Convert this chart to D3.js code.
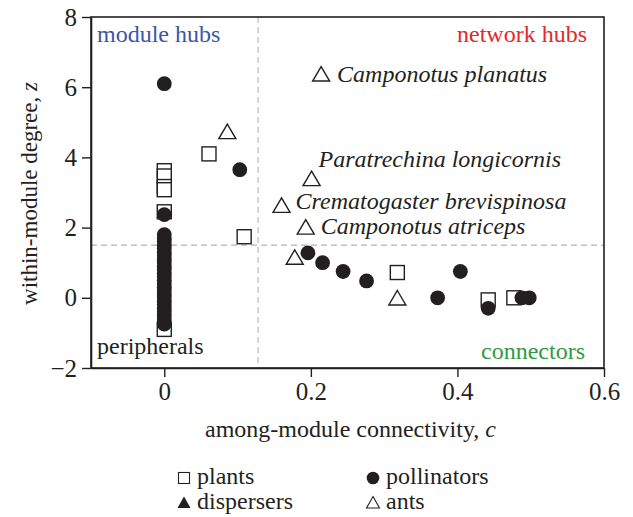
<!DOCTYPE html>
<html>
<head>
<meta charset="utf-8">
<script src="https://cdn.jsdelivr.net/npm/d3@7/dist/d3.min.js"></script>
<style>
  html, body { margin: 0; padding: 0; background: #fff; }
  svg { display: block; }
  text { font-family: "Liberation Serif", "Times New Roman", serif; }
</style>
</head>
<body>
<svg id="chart" width="633" height="517"></svg>
<script>
// ---- data (c = among-module connectivity, z = within-module degree) ----
const plants = [
  {c: 0, z: 3.62}, {c: 0, z: 3.47}, {c: 0, z: 3.17}, {c: 0, z: 3.08},
  {c: 0, z: 2.45}, {c: 0, z: -0.9},
  {c: 0.061, z: 4.1}, {c: 0.109, z: 1.74},
  {c: 0.318, z: 0.72}, {c: 0.442, z: -0.06}, {c: 0.477, z: 0.0}
];
const pollinatorsC0 = [6.1, 2.37, 1.8, 1.7, 1.6, 1.5, 1.4, 1.3, 1.2, 1.1, 1.0, 0.9, 0.8, 0.7, 0.6,
  0.5, 0.4, 0.3, 0.2, 0.1, 0.0, -0.1, -0.2, -0.3, -0.4, -0.5, -0.6, -0.7, -0.75];
const pollinators = pollinatorsC0.map(z => ({c: 0, z: z})).concat([
  {c: 0.103, z: 3.65}, {c: 0.196, z: 1.28}, {c: 0.216, z: 1.0},
  {c: 0.244, z: 0.75}, {c: 0.276, z: 0.48}, {c: 0.373, z: 0.0},
  {c: 0.404, z: 0.75}, {c: 0.442, z: -0.3}, {c: 0.488, z: 0.0}, {c: 0.498, z: 0.0}
]);
const dispersers = [];
const ants = [
  {c: 0.086, z: 4.72}, {c: 0.214, z: 6.36}, {c: 0.201, z: 3.38},
  {c: 0.16, z: 2.62}, {c: 0.193, z: 2.0}, {c: 0.178, z: 1.14}, {c: 0.318, z: -0.02}
];
const speciesLabels = [
  {name: "Camponotus planatus", ant: 1},
  {name: "Paratrechina longicornis", ant: 2},
  {name: "Crematogaster brevispinosa", ant: 3},
  {name: "Camponotus atriceps", ant: 4}
];
const roleLabels = ["module hubs", "network hubs", "peripherals", "connectors"];
const cThreshold = 0.128, zThreshold = 1.5;
const xTicks = [0, 0.2, 0.4, 0.6];
const yTicks = [-2, 0, 2, 4, 6, 8];
const legendItems = ["plants", "pollinators", "dispersers", "ants"];

// ---- layout ----
const svg = d3.select("#chart");
const L = 91, R = 604, T = 17, B = 368;
const x = d3.scaleLinear().domain([-0.1, 0.6]).range([L, R]);
const y = d3.scaleLinear().domain([-2, 8]).range([B, T]);
const ink = "#231f20";

// threshold lines
svg.append("line").attr("x1", x(cThreshold)).attr("x2", x(cThreshold))
  .attr("y1", T).attr("y2", B)
  .attr("stroke", "#b3b3b3").attr("stroke-width", 1.1).attr("stroke-dasharray", "6,4");
svg.append("line").attr("x1", L).attr("x2", R)
  .attr("y1", y(zThreshold)).attr("y2", y(zThreshold))
  .attr("stroke", "#b3b3b3").attr("stroke-width", 1.1).attr("stroke-dasharray", "6,4");

// frame
svg.append("rect").attr("x", L).attr("y", T).attr("width", R - L).attr("height", B - T)
  .attr("fill", "none").attr("stroke", ink).attr("stroke-width", 1.6);

// axes
const xAxis = svg.append("g").attr("transform", `translate(0,${B})`)
  .call(d3.axisBottom(x).tickValues(xTicks).tickSize(9).tickSizeOuter(0).tickPadding(5)
    .tickFormat(d => d === 0 ? "0" : d3.format(".1f")(d)));
const yAxis = svg.append("g").attr("transform", `translate(${L},0)`)
  .call(d3.axisLeft(y).tickValues(yTicks).tickSize(9).tickSizeOuter(0).tickPadding(5));
[xAxis, yAxis].forEach(g => {
  g.select(".domain").attr("stroke", ink).attr("stroke-width", 1.6);
  g.selectAll(".tick line").attr("stroke", ink).attr("stroke-width", 1.4);
  g.selectAll(".tick text").attr("fill", ink).attr("font-size", 25)
    .attr("font-family", "Liberation Serif, serif");
});

// axis titles
const xt = svg.append("text").attr("x", (L + R) / 2 + 3).attr("y", 437)
  .attr("text-anchor", "middle").attr("font-size", 24).attr("fill", ink);
xt.append("tspan").text("among-module connectivity, ");
xt.append("tspan").attr("font-style", "italic").text("c");
const yt = svg.append("text").attr("transform", `translate(37,${(T + B) / 2 + 1}) rotate(-90)`)
  .attr("text-anchor", "middle").attr("font-size", 23).attr("fill", ink);
yt.append("tspan").text("within-module degree, ");
yt.append("tspan").attr("font-style", "italic").text("z");

// markers
const sq = 14, rc = 7.4;
svg.append("g").selectAll("rect").data(plants).join("rect")
  .attr("x", d => x(d.c) - sq / 2).attr("y", d => y(d.z) - sq / 2)
  .attr("width", sq).attr("height", sq)
  .attr("fill", "#fff").attr("stroke", ink).attr("stroke-width", 1.4);
svg.append("g").selectAll("circle").data(pollinators).join("circle")
  .attr("cx", d => x(d.c)).attr("cy", d => y(d.z)).attr("r", rc)
  .attr("fill", ink);
const tri = "M0,-8L8.5,6.5L-8.5,6.5Z";
svg.append("g").selectAll("path.disp").data(dispersers).join("path")
  .attr("class", "disp").attr("d", tri)
  .attr("transform", d => `translate(${x(d.c)},${y(d.z)})`).attr("fill", ink);
svg.append("g").selectAll("path.ant").data(ants).join("path")
  .attr("class", "ant").attr("d", tri)
  .attr("transform", d => `translate(${x(d.c)},${y(d.z)})`)
  .attr("fill", "#fff").attr("stroke", ink).attr("stroke-width", 1.4);

// species labels
const labelOffsets = [[16, 7], [7, -12], [14, 3], [15, 6]];
svg.append("g").selectAll("text").data(speciesLabels).join("text")
  .attr("x", (d, i) => x(ants[d.ant].c) + labelOffsets[i][0])
  .attr("y", (d, i) => y(ants[d.ant].z) + labelOffsets[i][1])
  .attr("font-size", 24).attr("font-style", "italic").attr("fill", ink)
  .text(d => d.name);

// role labels
svg.append("text").attr("x", L + 6).attr("y", T + 25).attr("font-size", 24)
  .attr("fill", "#3a56a8").text(roleLabels[0]);
svg.append("text").attr("x", R - 17).attr("y", T + 25).attr("font-size", 24)
  .attr("text-anchor", "end").attr("fill", "#e8262d").text(roleLabels[1]);
svg.append("text").attr("x", L + 6).attr("y", B - 14).attr("font-size", 24)
  .attr("fill", ink).text(roleLabels[2]);
svg.append("text").attr("x", R - 19).attr("y", B - 9).attr("font-size", 24)
  .attr("text-anchor", "end").attr("fill", "#2e9a47").text(roleLabels[3]);

// legend
const legPos = [[184, 478], [373, 478], [184, 503], [373, 503]];
const lg = svg.append("g");
legendItems.forEach((name, i) => {
  const [lx, ly] = legPos[i];
  if (i === 0) lg.append("rect").attr("x", lx - 5.5).attr("y", ly - 5.5).attr("width", 11).attr("height", 11)
    .attr("fill", "#fff").attr("stroke", ink).attr("stroke-width", 1.1);
  if (i === 1) lg.append("circle").attr("cx", lx).attr("cy", ly).attr("r", 6.3).attr("fill", ink);
  if (i === 2) lg.append("path").attr("d", "M0,-6.5L6.5,5L-6.5,5Z")
    .attr("transform", `translate(${lx},${ly})`).attr("fill", ink);
  if (i === 3) lg.append("path").attr("d", "M0,-6.5L6.5,5L-6.5,5Z")
    .attr("transform", `translate(${lx},${ly})`).attr("fill", "#fff")
    .attr("stroke", ink).attr("stroke-width", 1.1);
  lg.append("text").attr("x", lx + 13).attr("y", ly + 6).attr("font-size", 24)
    .attr("fill", ink).text(name);
});
</script>
</body>
</html>
